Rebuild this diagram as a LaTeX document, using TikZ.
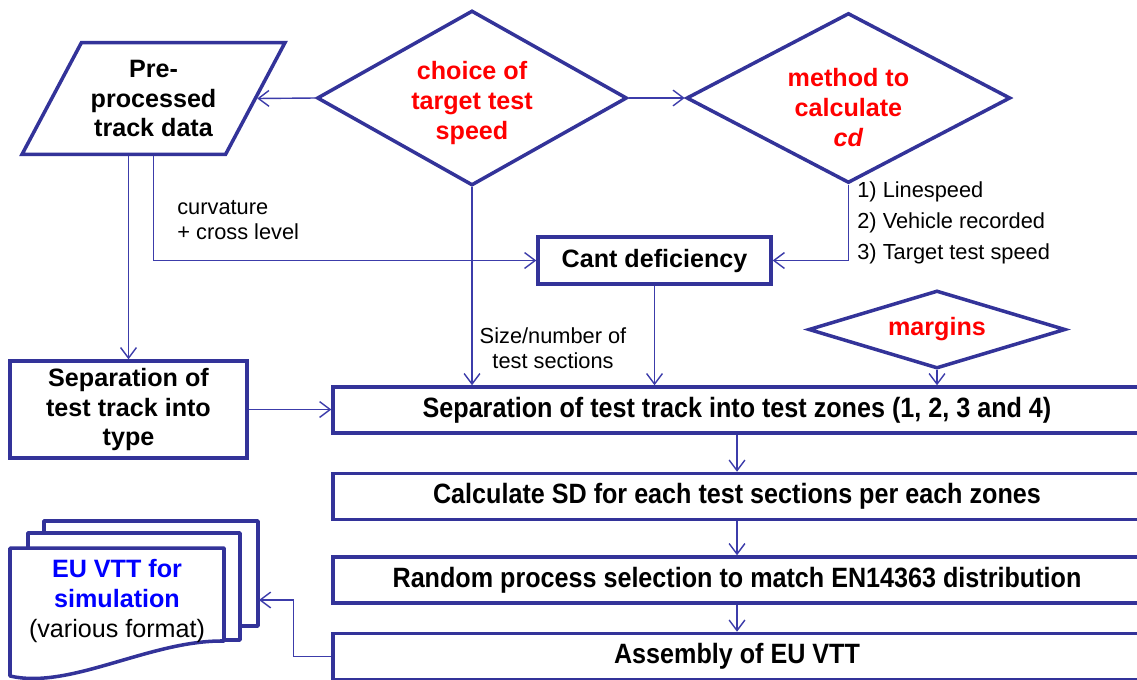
\documentclass[tikz,border=0pt]{standalone}
\usepackage{fontspec}
\setmainfont{Liberation Sans}
\newfontfamily\narrowfont[FakeStretch=0.9]{Liberation Sans}
\usetikzlibrary{positioning,shapes.geometric,arrows.meta}
\definecolor{navy}{RGB}{51,51,153}
\definecolor{linkblue}{RGB}{60,60,170}
\tikzset{
	box/.style={draw=navy, line width=2pt, fill=white, align=center, inner sep=0pt, font=\bfseries\fontsize{14.3}{17}\selectfont},
	data/.style={box, trapezium, trapezium left angle=62, trapezium right angle=118, trapezium stretches body, inner ysep=9.8pt, minimum width=5.26cm},
	choice/.style={box, diamond, aspect=1.8, fill=none, text=red},
	wide/.style={box, minimum width=16.16cm, minimum height=0.92cm, font=\narrowfont\bfseries\fontsize{15.9}{18}\selectfont},
	sheet/.style={draw=navy, line width=2pt, fill=white, line join=round},
	note/.style={inner sep=0pt, align=left, font=\fontsize{12.4}{14.2}\selectfont},
	conn/.style={draw=linkblue, line width=0.8pt, -{Straight Barb[length=6pt,width=9pt]}}
}
\begin{document}
\begin{tikzpicture}[x=0.02cm, y=-0.02cm]
				\clip (0,0) rectangle (1137,680);
				\node [data] (ppd) at (153.5,98.5) {Pre-\\processed\\track data};
				\node [choice, minimum width=6.2cm, minimum height=3.5cm] (speed) at (472,98) {\mbox{}\\[-1pt]choice of\\target test\\speed};
				\node [choice, minimum width=6.48cm, minimum height=3.4cm, right = 1.12cm of speed] (method) {\mbox{}\\[4pt]method to\\calculate\\\textit{cd}};
				\node [box, minimum width=4.66cm, minimum height=0.94cm] (cant) at (654.5,260.5) {Cant deficiency};
				\node [box, minimum width=4.74cm, minimum height=1.94cm] (sept) at (128.5,409.5) {Separation of\\test track into\\type};
				\node [choice, aspect=3.3, minimum width=5.14cm, minimum height=1.56cm] (marg) at (937,329.5) {margins};
				\node [wide] (zones) at (737,410) {Separation of test track into test zones (1, 2, 3 and 4)};
				\node [wide, below = 0.74cm of zones] (sd) {Calculate SD for each test sections per each zones};
				\node [wide, below = 0.68cm of sd] (rand) {Random process selection to match EN14363 distribution};
				\node [wide, below = 0.54cm of rand] (asm) {Assembly of EU VTT};
				\node [note, anchor=west, font=\fontsize{12.4}{17.6}\selectfont] (ways) at (857,223) {1) Linespeed\\2) Vehicle recorded\\3) Target test speed};
				\node [note, anchor=west] (curv) at (177,220.5) {curvature\\+ cross level};
				\node [note, align=center] (size) at (553,348) {Size/number of\\test sections};
				\draw [sheet] (44,626) -- (44,521) -- (258,521) -- (258,626) -- cycle;
				\draw [sheet] (28,640) -- (28,533) -- (240,533) -- (240,640) -- cycle;
				\draw [sheet] (10,548) -- (224,548) -- (224,641) .. controls (150,640) and (70,690) .. (10,676) -- cycle;
				\node [align=center, font=\fontsize{14.3}{17}\selectfont] (vtt) at (117,601) {\textcolor{blue}{\bfseries EU VTT for}\\\textcolor{blue}{\bfseries simulation}\\(various format)};
				\coordinate (vttin) at (259,600);
				\draw [conn] (speed.west) -- (ppd.east);               \draw [conn] (speed.east) -- (method.west);
				\draw [conn] (speed.south) -- (speed.south |- zones.north);
				\draw [conn] (method.south) |- (cant.east);              \draw [conn] (ppd.south) |- (cant.west);
				\draw [conn] (ppd.south -| sept.north) -- (sept.north);  \draw [conn] (sept.east) -- (sept.east -| zones.west);
				\draw [conn] (cant.south) -- (cant.south |- zones.north); \draw [conn] (marg.south) -- (marg.south |- zones.north);
				\foreach \a/\b in {zones/sd, sd/rand, rand/asm}
					\draw [conn] (\a.south) -- (\b.north);
				\draw [conn] (asm.west) -- ++(-38,0) |- (vttin);
			\end{tikzpicture}
\end{document}
